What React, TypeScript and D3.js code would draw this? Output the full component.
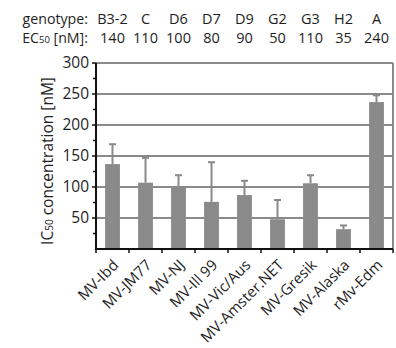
import React from "react";
import * as d3 from "d3";

const strains = ["MV-Ibd", "MV-JM77", "MV-NJ", "MV-Ill 99", "MV-Vic/Aus", "MV-Amster.NET", "MV-Gresik", "MV-Alaska", "rMv-Edm"];
const genotypes = ["B3-2", "C", "D6", "D7", "D9", "G2", "G3", "H2", "A"];
const ec50 = ["140", "110", "100", "80", "90", "50", "110", "35", "240"];
const ic50 = [137, 107, 100, 76, 87, 48, 106, 32, 237];
const errTop = [169, 147, 119, 140, 110, 79, 119, 38, 248];
const yTicks = [50, 100, 150, 200, 250, 300];
const yMinor = [25, 75, 125, 175, 225, 275];

const W = 396, H = 348;
const M = { left: 96, right: 3, top: 63, bottom: 98 };
const FONT = "'Open Sans', 'Noto Sans', sans-serif";
const GRAY = "#8a8a8a";
const INK = "#1e1e1e";

export default function App() {
  const x = d3.scaleBand<string>().domain(strains).range([M.left, W - M.right]).paddingInner(0.55).paddingOuter(0.275);
  const y = d3.scaleLinear().domain([0, 300]).range([H - M.bottom - 1, M.top]);
  const bw = x.bandwidth();
  const step = x.step();
  const x0 = M.left, x1 = W - M.right;
  const yb = y(0);
  return (
    <svg width={W} height={H} style={{ position: "absolute", left: 0, top: 0 }} fontFamily={FONT}>
      <rect width={W} height={H} fill="#fff" />
      {/* header */}
      <text x={88} y={24} textAnchor="end" fontSize={14.2} fill={INK}>genotype:</text>
      <text x={88} y={43} textAnchor="end" fontSize={14.2} fill={INK}>
        EC<tspan fontSize={9.5}>50</tspan> [nM]:
      </text>
      {strains.map((s, i) => (
        <g key={"h" + s}>
          <text x={x(s)! + bw / 2} y={24} textAnchor="middle" fontSize={14.5} fill={INK}>{genotypes[i]}</text>
          <text x={x(s)! + bw / 2} y={43} textAnchor="middle" fontSize={14.5} fill={INK}>{ec50[i]}</text>
        </g>
      ))}
      {/* grid */}
      {yTicks.map((t) => (
        <line key={"g" + t} x1={x0} x2={x1} y1={y(t)} y2={y(t)} stroke={GRAY} strokeWidth={2} />
      ))}
      <line x1={x1} x2={x1} y1={y(300)} y2={yb} stroke={GRAY} strokeWidth={2} />
      {/* bars */}
      {strains.map((s, i) => {
        const cx = x(s)! + bw / 2;
        return (
          <g key={"b" + s}>
            <line x1={cx} x2={cx} y1={y(ic50[i])} y2={y(errTop[i])} stroke={GRAY} strokeWidth={2} />
            <line x1={cx - 3.5} x2={cx + 3.5} y1={y(errTop[i])} y2={y(errTop[i])} stroke={GRAY} strokeWidth={2} />
            <rect x={x(s)!} y={y(ic50[i])} width={bw} height={yb - y(ic50[i])} fill={GRAY} />
          </g>
        );
      })}
      {/* axes */}
      <line x1={x0} x2={x0} y1={y(300)} y2={yb + 1} stroke="#111" strokeWidth={2} />
      <line x1={x0 - 1} x2={x1} y1={yb} y2={yb} stroke="#111" strokeWidth={2} />
      {yTicks.map((t) => (
        <g key={"t" + t}>
          <line x1={x0 - 4} x2={x0} y1={y(t)} y2={y(t)} stroke="#111" strokeWidth={1.5} />
          <text x={x0 - 7} y={y(t)} dy="0.35em" textAnchor="end" fontSize={15.5} fill={INK}>{t}</text>
        </g>
      ))}
      {yMinor.map((t) => (
        <line key={"m" + t} x1={x0 - 3} x2={x0} y1={y(t)} y2={y(t)} stroke="#111" strokeWidth={1.5} />
      ))}
      {d3.range(strains.length + 1).map((k) => (
        <line key={"xt" + k} x1={x0 + k * step} x2={x0 + k * step} y1={yb} y2={yb + 4} stroke="#111" strokeWidth={1.5} />
      ))}
      {strains.map((s) => {
        const cx = x(s)! + bw / 2 + 7;
        const ty = yb + 17;
        return (
          <text key={"xl" + s} transform={`translate(${cx},${ty}) rotate(-45)`} textAnchor="end" fontSize={15} fill={INK}>{s}</text>
        );
      })}
      <text transform={`translate(${53},${161}) rotate(-90)`} textAnchor="middle" fontSize={15.5} fill={INK}>
        IC<tspan fontSize={10}>50</tspan> concentration [nM]
      </text>
    </svg>
  );
}
